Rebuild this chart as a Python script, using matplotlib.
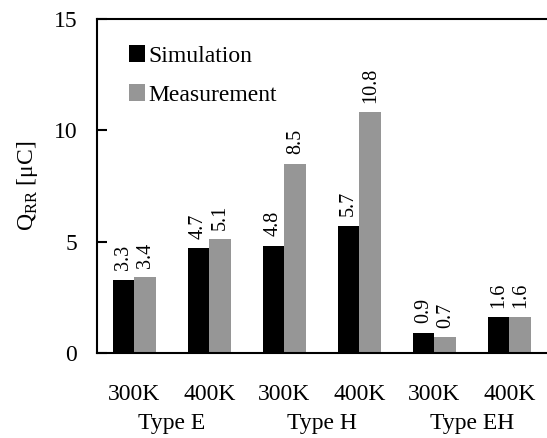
import numpy as np
import matplotlib.pyplot as plt

plt.rcParams['font.family'] = ['Liberation Serif', 'DejaVu Serif']
plt.rcParams['mathtext.fontset'] = 'custom'
plt.rcParams['mathtext.rm'] = 'Liberation Serif'

temps = ['300K', '400K', '300K', '400K', '300K', '400K']
groups = ['Type E', 'Type H', 'Type EH']
simulation = [3.3, 4.7, 4.8, 5.7, 0.9, 1.6]
measurement = [3.4, 5.1, 8.5, 10.8, 0.7, 1.6]

fig = plt.figure(figsize=(5.47, 4.38), dpi=100)
ax = fig.add_axes([0.177, 0.194, 0.823, 0.763])

x = np.arange(len(temps))
w = 0.29
b1 = ax.bar(x - w / 2, simulation, w, color='black', label='Simulation')
b2 = ax.bar(x + w / 2, measurement, w, color='#969696', label='Measurement')

for bars, vals in ((b1, simulation), (b2, measurement)):
    for rect, v in zip(bars, vals):
        ax.annotate(f'{v:.1f}', (rect.get_x() + rect.get_width() / 2, v),
                    xytext=(0, 7), textcoords='offset points',
                    rotation=90, ha='center', va='bottom', fontsize=14.5)

ax.set_xlim(-0.5, 5.5)
ax.set_ylim(0, 15)
ax.set_yticks([0, 5, 10, 15])
ax.set_xticks(x)
ax.set_xticklabels(temps, fontsize=17)
ax.tick_params(axis='x', length=0, pad=22)
ax.tick_params(axis='y', direction='in', length=7, width=1.5, labelsize=17, pad=14)

for i, g in enumerate(groups):
    ax.text(2 * i + 0.5, -0.21, g, transform=ax.get_xaxis_transform(),
            ha='center', va='center', fontsize=17)

ax.set_ylabel(r'Q$_{\rm RR}$ [μC]', fontsize=17, labelpad=10)
ax.spines['right'].set_visible(False)
for s in ('left', 'top', 'bottom'):
    ax.spines[s].set_linewidth(1.5)

ax.legend(loc='upper left', bbox_to_anchor=(0.05, 0.95), frameon=False,
          fontsize=17, handlelength=0.7, handleheight=0.7,
          handletextpad=0.15, labelspacing=0.75, borderaxespad=0)

plt.savefig('out.png', dpi=100)
